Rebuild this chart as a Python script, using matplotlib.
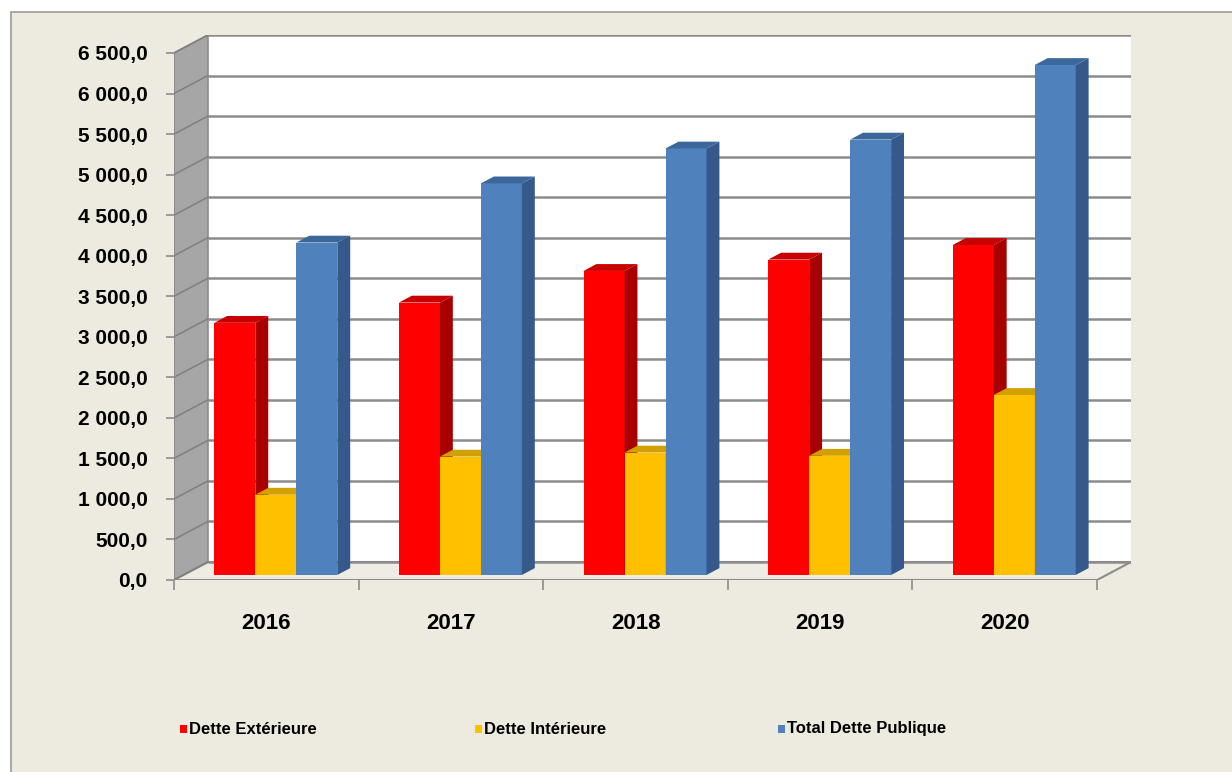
import matplotlib
matplotlib.use('Agg')
import matplotlib.pyplot as plt
from matplotlib.patches import Polygon, Rectangle
import numpy as np

years = ['2016', '2017', '2018', '2019', '2020']
dette_ext = [3110, 3360, 3750, 3890, 4070]
dette_int = [990, 1460, 1510, 1470, 2220]
dette_tot = [4100, 4830, 5260, 5370, 6290]
series_names = ['Dette Extérieure', 'Dette Intérieure', 'Total Dette Publique']

# front / side / top shades for each series
shades = [('#FF0000', '#A80000', '#C80000'),
          ('#FFC000', '#C99700', '#D2A000'),
          ('#4F81BD', '#34598A', '#3C679B')]

bg = '#EDEAE0'
ymax = 6500
step = 500
dx = 0.184      # depth of the floor, in category units
dy = 222        # depth of the floor, in value units
f = 0.28        # where the bars stand in the depth
bd = 0.38       # depth of one bar
w = 0.222       # width of one bar

def fmt(v):
    return '{:,.1f}'.format(v).replace(',', ' ').replace('.', ',')

fig = plt.figure(figsize=(12.32, 7.72), dpi=100)
fig.patch.set_facecolor('white')
fig.patches.append(Rectangle((11/1232, -0.1), 1.2, (772-12)/772 + 0.1, transform=fig.transFigure,
                             facecolor=bg, edgecolor='#9A9A9A', lw=1.2, zorder=-5))

ax = fig.add_axes([174/1232, (772-580)/772, 957/1232, 545/772])
ax.set_zorder(2)
ax.set_xlim(-0.5, 4.5 + dx)
ax.set_ylim(0, ymax + dy)
ax.patch.set_alpha(0)
for s in ax.spines.values():
    s.set_visible(False)

grid_c = '#8C8C8C'
x0, x1 = -0.5, 4.5

# back wall, left wall, floor
ax.add_patch(Polygon([(x0+dx, dy), (x1+dx, dy), (x1+dx, ymax+dy), (x0+dx, ymax+dy)],
                     closed=True, facecolor='white', edgecolor='none', zorder=1))
ax.add_patch(Polygon([(x0, 0), (x0+dx, dy), (x0+dx, ymax+dy), (x0, ymax)],
                     closed=True, facecolor='#A6A6A6', edgecolor='#8C8C8C', lw=1.2, zorder=1))
ax.add_patch(Polygon([(x0, 0), (x1, 0), (x1+dx, dy), (x0+dx, dy)],
                     closed=True, facecolor='#EEECE3', edgecolor=grid_c, lw=1.5, zorder=1))

for v in np.arange(0, ymax + 1, step):
    ax.plot([x0+dx, x1+dx], [v+dy, v+dy], color=grid_c, lw=1.8, zorder=2, solid_capstyle='butt')
    ax.plot([x0, x0+dx], [v, v+dy], color='#7F7F7F', lw=1.1, zorder=2)
ax.plot([x0, x0], [0, ymax], color=grid_c, lw=1.2, zorder=2)

# bars
allvals = [dette_ext, dette_int, dette_tot]
z = 3
for i in range(len(years)):
    for j, vals in enumerate(allvals):
        front, side, top = shades[j]
        xl = i - 1.5*w + j*w + f*dx
        xr = xl + w
        b = f*dy
        h = vals[i]
        ax.bar(xl, h, width=w, bottom=b, align='edge', color=front, edgecolor='none', zorder=z)
        ax.add_patch(Polygon([(xr, b), (xr+bd*dx, b+bd*dy), (xr+bd*dx, b+h+bd*dy), (xr, b+h)],
                             closed=True, facecolor=side, edgecolor='none', zorder=z))
        ax.add_patch(Polygon([(xl, b+h), (xr, b+h), (xr+bd*dx, b+h+bd*dy), (xl+bd*dx, b+h+bd*dy)],
                             closed=True, facecolor=top, edgecolor='none', zorder=z))
        z += 1

# axes ticks
ax.set_yticks(np.arange(0, ymax + 1, step))
ax.set_yticklabels([fmt(v) for v in np.arange(0, ymax + 1, step)])
ax.tick_params(axis='y', length=6, width=1.2, color=grid_c, pad=13, labelsize=15)
ax.set_xticks(range(len(years)))
ax.set_xticklabels(years)
ax.set_xticks(np.arange(-0.5, 4.6, 1), minor=True)
ax.tick_params(axis='x', which='major', length=0, pad=24, labelsize=16)
ax.tick_params(axis='x', which='minor', length=7, width=1.2, color=grid_c)
for lab in ax.get_yticklabels() + ax.get_xticklabels():
    lab.set_fontfamily('Liberation Sans')
    lab.set_fontweight('bold')

# legend along the bottom
leg_x = [180, 475, 778]
for k, name in enumerate(series_names):
    fig.patches.append(Rectangle((leg_x[k]/1232, (772-733)/772), 7/1232, 8/772,
                                 transform=fig.transFigure, facecolor=shades[k][0],
                                 edgecolor='none', zorder=5))
    fig.text((leg_x[k]+9)/1232, (772-729)/772, name, ha='left', va='center', fontsize=12,
             fontweight='bold', family=['Liberation Sans Narrow', 'Liberation Sans'])

fig.savefig('out.png', dpi=100, facecolor=fig.get_facecolor())
